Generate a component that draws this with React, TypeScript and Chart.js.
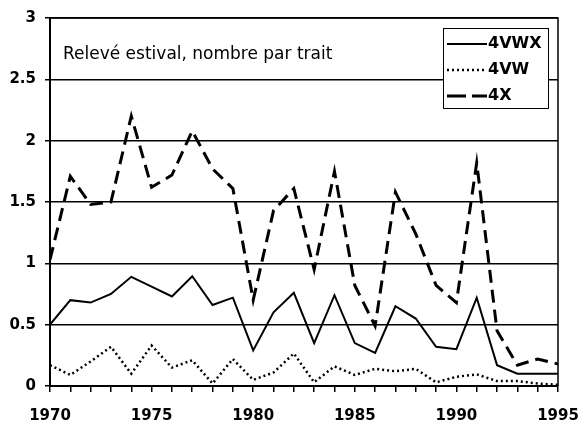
import React, { useEffect, useRef } from "react";
import { Chart, registerables } from "chart.js";

Chart.register(...registerables);

const years = [1970, 1971, 1972, 1973, 1974, 1975, 1976, 1977, 1978, 1979, 1980, 1981, 1982, 1983, 1984, 1985, 1986, 1987, 1988, 1989, 1990, 1991, 1992, 1993, 1994, 1995];
const s4VWX = [0.5, 0.7, 0.68, 0.75, 0.89, 0.81, 0.73, 0.895, 0.66, 0.72, 0.29, 0.6, 0.76, 0.35, 0.74, 0.35, 0.27, 0.65, 0.55, 0.32, 0.3, 0.72, 0.17, 0.1, 0.1, 0.1];
const s4VW = [0.17, 0.09, 0.2, 0.32, 0.1, 0.33, 0.15, 0.21, 0.02, 0.22, 0.05, 0.11, 0.265, 0.03, 0.16, 0.09, 0.14, 0.12, 0.14, 0.03, 0.075, 0.095, 0.04, 0.04, 0.02, 0.01];
const s4X = [1.03, 1.71, 1.48, 1.5, 2.2, 1.62, 1.72, 2.08, 1.77, 1.61, 0.7, 1.43, 1.61, 0.95, 1.75, 0.82, 0.49, 1.58, 1.24, 0.82, 0.68, 1.82, 0.45, 0.17, 0.22, 0.18];
const seriesNames = ["4VWX", "4VW", "4X"];
const titleText = "Relevé estival, nombre par trait";

const FONT = "'DejaVu Sans', sans-serif";

const framePlugin = {
  id: "frame",
  afterDraw(chart: any) {
    const { ctx, chartArea } = chart;
    ctx.save();
    ctx.strokeStyle = "#000";
    ctx.lineWidth = 1.5;
    ctx.beginPath();
    ctx.moveTo(chartArea.left, chartArea.top);
    ctx.lineTo(chartArea.right, chartArea.top);
    ctx.lineTo(chartArea.right, chartArea.bottom);
    ctx.stroke();

    // title
    ctx.fillStyle = "#000";
    ctx.font = `17px ${FONT}`;
    ctx.textBaseline = "middle";
    ctx.textAlign = "left";
    ctx.fillText(titleText, chartArea.left + 13, chartArea.top + 37);

    // legend box
    const bw = 105, bh = 80;
    const bx = chartArea.right - 10 - bw;
    const by = chartArea.top + 10;
    ctx.fillStyle = "#fff";
    ctx.fillRect(bx, by, bw, bh);
    ctx.lineWidth = 1;
    ctx.strokeStyle = "#000";
    ctx.strokeRect(bx + 0.5, by + 0.5, bw, bh);
    chart.data.datasets.forEach((ds: any, i: number) => {
      const y = by + 16 + i * 26;
      ctx.save();
      ctx.strokeStyle = "#000";
      ctx.lineWidth = ds.borderWidth;
      ctx.setLineDash(i === 2 ? [19, 6] : ds.borderDash || []);
      ctx.beginPath();
      ctx.moveTo(bx + 4, y);
      ctx.lineTo(bx + 44, y);
      ctx.stroke();
      ctx.restore();
      ctx.fillStyle = "#000";
      ctx.font = `bold 16px ${FONT}`;
      ctx.textBaseline = "middle";
      ctx.fillText(ds.label, bx + 45, y);
    });
    ctx.restore();
  },
};

export default function App() {
  const ref = useRef<HTMLCanvasElement | null>(null);
  useEffect(() => {
    if (!ref.current) return;
    const mk = (arr: number[]) => years.map((x, i) => ({ x, y: arr[i] }));
    const chart = new Chart(ref.current, {
      type: "line",
      data: {
        datasets: [
          { label: seriesNames[0], data: mk(s4VWX), borderColor: "#000", borderWidth: 2, pointRadius: 0, tension: 0 },
          { label: seriesNames[1], data: mk(s4VW), borderColor: "#000", borderWidth: 2.5, borderDash: [2, 3], pointRadius: 0, tension: 0 },
          { label: seriesNames[2], data: mk(s4X), borderColor: "#000", borderWidth: 3, borderDash: [13, 7], pointRadius: 0, tension: 0 },
        ],
      },
      options: {
        animation: false,
        responsive: true,
        maintainAspectRatio: false,
        layout: { padding: { left: 0, right: 24, top: 18, bottom: 0 } },
        plugins: { legend: { display: false }, tooltip: { enabled: false }, title: { display: false } },
        scales: {
          x: {
            type: "linear",
            min: 1970,
            max: 1995,
            afterFit: (s: any) => { s.height = 37; s.paddingLeft = 0; s.paddingRight = 0; },
            ticks: {
              stepSize: 1,
              autoSkip: false,
              maxRotation: 0,
              color: "#000",
              font: { family: FONT, weight: "bold", size: 15 },
              padding: 15,
              callback: (v: any) => (Number(v) % 5 === 0 ? String(v) : ""),
            },
            grid: { drawOnChartArea: false, color: "#000", lineWidth: 1.5, tickLength: 6 },
            border: { display: true, color: "#000", width: 2 },
          },
          y: {
            min: 0,
            max: 3,
            afterFit: (s: any) => { s.width = 50; s.paddingTop = 0; s.paddingBottom = 0; },
            ticks: {
              stepSize: 0.5,
              color: "#000",
              font: { family: FONT, weight: "bold", size: 15 },
              padding: 9,
              callback: (v: any) => String(Number(v)),
            },
            grid: { color: "#000", lineWidth: 1.5, tickLength: 5 },
            border: { display: true, color: "#000", width: 2 },
          },
        },
      },
      plugins: [framePlugin],
    });
    return () => chart.destroy();
  }, []);
  return (
    <div style={{ position: "fixed", left: 0, top: 0, width: 582, height: 423, background: "#fff" }}>
      <canvas ref={ref} />
    </div>
  );
}
